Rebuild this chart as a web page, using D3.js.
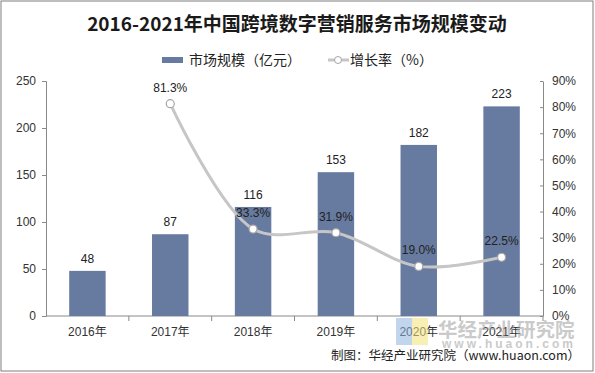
<!DOCTYPE html>
<html>
<head>
<meta charset="utf-8">
<script src="https://cdn.jsdelivr.net/npm/d3@7"></script>
<style>
  body { margin: 0; background: #fff; }
  text { font-family: "Liberation Sans", Arial, "Noto Sans CJK SC", sans-serif; }
  .cjk { font-family: "Noto Sans CJK SC", sans-serif; }
</style>
</head>
<body>
<script>
var years = ['2016年', '2017年', '2018年', '2019年', '2020年', '2021年'];
var scale = [48, 87, 116, 153, 182, 223];
var growth = [null, 81.3, 33.3, 31.9, 19.0, 22.5];
var leftTicks = [0, 50, 100, 150, 200, 250];
var rightTicks = [0, 10, 20, 30, 40, 50, 60, 70, 80, 90];

var w = 595, h = 373;
var plotL = 46, plotR = 543, plotT = 81, plotB = 316;

var svg = d3.select('body').append('svg')
  .attr('width', w)
  .attr('height', h);

svg.append('rect')
  .attr('x', 1).attr('y', 1)
  .attr('width', w - 3).attr('height', h - 3)
  .attr('fill', '#fff').attr('stroke', '#7f7f7f');

svg.append('text')
  .attr('class', 'cjk')
  .attr('x', 297).attr('y', 31)
  .attr('text-anchor', 'middle')
  .attr('font-size', 19).attr('font-weight', 'bold')
  .attr('fill', '#1a1a1a')
  .text('2016-2021年中国跨境数字营销服务市场规模变动');

var x = d3.scaleBand().domain(years).range([plotL, plotR]).paddingInner(0.56).paddingOuter(0.28);
var xc = d3.scaleBand().domain(years).range([plotL, plotR]);
var y = d3.scaleLinear().domain([0, 250]).range([plotB, plotT]);
var y2 = d3.scaleLinear().domain([0, 90]).range([plotB, plotT]);

// axes
svg.append('g')
  .attr('transform', 'translate(' + plotL + ',0)')
  .call(d3.axisLeft(y).tickValues(leftTicks).tickSize(4).tickPadding(6))
  .call(function(g) {
    g.selectAll('line, path').attr('stroke', '#898989');
    g.selectAll('text').attr('font-size', 12).attr('fill', '#333');
  });

var ra = svg.append('g')
  .attr('transform', 'translate(' + plotR + ',0)')
  .call(d3.axisRight(y2).tickValues(rightTicks).tickSize(0).tickPadding(9)
    .tickFormat(function(d) { return d + '%'; }));
ra.selectAll('path').attr('stroke', '#898989');
ra.selectAll('.tick').append('line').attr('x1', -3).attr('x2', 0).attr('stroke', '#898989');
ra.selectAll('text').attr('font-size', 12).attr('fill', '#333');

svg.append('line')
  .attr('x1', plotL).attr('x2', plotR)
  .attr('y1', plotB).attr('y2', plotB)
  .attr('stroke', '#898989');

svg.selectAll('.xtick')
  .data(years)
  .enter()
  .append('line')
    .attr('x1', function(d) { return xc(d) + xc.bandwidth(); })
    .attr('x2', function(d) { return xc(d) + xc.bandwidth(); })
    .attr('y1', plotB).attr('y2', plotB + 5)
    .attr('stroke', '#898989');

svg.selectAll('.xlab')
  .data(years)
  .enter()
  .append('text')
    .attr('x', function(d) { return xc(d) + xc.bandwidth() / 2; })
    .attr('y', plotB + 20)
    .attr('text-anchor', 'middle')
    .attr('font-size', 12).attr('fill', '#333')
    .text(function(d) { return d; });

// bars
svg.selectAll('.bar')
  .data(scale)
  .enter()
  .append('rect')
    .attr('x', function(d, i) { return x(years[i]); })
    .attr('y', function(d) { return y(d); })
    .attr('width', x.bandwidth())
    .attr('height', function(d) { return plotB - y(d); })
    .attr('fill', '#677a9f');

svg.selectAll('.barlab')
  .data(scale)
  .enter()
  .append('text')
    .attr('x', function(d, i) { return xc(years[i]) + xc.bandwidth() / 2; })
    .attr('y', function(d) { return y(d) - 8; })
    .attr('text-anchor', 'middle')
    .attr('font-size', 12).attr('fill', '#222')
    .text(function(d) { return d; });

// growth line
var pts = growth.map(function(d, i) { return { yr: years[i], v: d }; })
  .filter(function(d) { return d.v !== null; });

var line = d3.line()
  .x(function(d) { return xc(d.yr) + xc.bandwidth() / 2; })
  .y(function(d) { return y2(d.v); })
  .curve(d3.curveCatmullRom.alpha(0.5));

svg.append('path')
  .datum(pts)
  .attr('d', line)
  .attr('fill', 'none')
  .attr('stroke', '#c6c6c6')
  .attr('stroke-width', 3);

svg.selectAll('.dot')
  .data(pts)
  .enter()
  .append('circle')
    .attr('cx', function(d) { return xc(d.yr) + xc.bandwidth() / 2; })
    .attr('cy', function(d) { return y2(d.v); })
    .attr('r', 4)
    .attr('fill', '#fff')
    .attr('stroke', '#a6a6a6')
    .attr('stroke-width', 1.2);

svg.selectAll('.dotlab')
  .data(pts)
  .enter()
  .append('text')
    .attr('x', function(d) { return xc(d.yr) + xc.bandwidth() / 2; })
    .attr('y', function(d) { return y2(d.v) - 12; })
    .attr('text-anchor', 'middle')
    .attr('font-size', 12).attr('fill', '#222')
    .text(function(d) { return d.v.toFixed(1) + '%'; });

// legend
var lg = svg.append('g').attr('transform', 'translate(0,60)');
lg.append('rect').attr('x', 162).attr('y', -3).attr('width', 21).attr('height', 6).attr('fill', '#677a9f');
lg.append('text').attr('class', 'cjk').attr('x', 189).attr('y', 5)
  .attr('font-size', 14).attr('fill', '#222').text('市场规模（亿元）');
lg.append('line').attr('x1', 328).attr('x2', 349).attr('y1', 0).attr('y2', 0)
  .attr('stroke', '#c6c6c6').attr('stroke-width', 3);
lg.append('circle').attr('cx', 338).attr('cy', 0).attr('r', 3.5)
  .attr('fill', '#fff').attr('stroke', '#a6a6a6');
lg.append('text').attr('class', 'cjk').attr('x', 350).attr('y', 5)
  .attr('font-size', 14).attr('fill', '#222').text('增长率（%）');

// watermark
var wm = svg.append('g').attr('opacity', 0.55);
wm.append('rect').attr('x', 396).attr('y', 318).attr('width', 16).attr('height', 27).attr('fill', '#8fb3e0');
wm.append('rect').attr('x', 412).attr('y', 318).attr('width', 16).attr('height', 27).attr('fill', '#f4e27a');
wm.append('text').attr('class', 'cjk').attr('x', 438).attr('y', 337)
  .attr('font-size', 19.5).attr('font-weight', 'bold').attr('fill', '#a0a0a0')
  .text('华经产业研究院');
wm.append('text').attr('x', 442).attr('y', 348)
  .attr('font-size', 12).attr('font-weight', 'bold').attr('fill', '#a0a0a0')
  .attr('letter-spacing', 3)
  .text('www.huaon.com');

svg.append('text')
  .attr('class', 'cjk')
  .attr('x', 580).attr('y', 360)
  .attr('text-anchor', 'end')
  .attr('font-size', 12.5).attr('fill', '#222')
  .text('制图：华经产业研究院（www.huaon.com）');
</script>
</body>
</html>
